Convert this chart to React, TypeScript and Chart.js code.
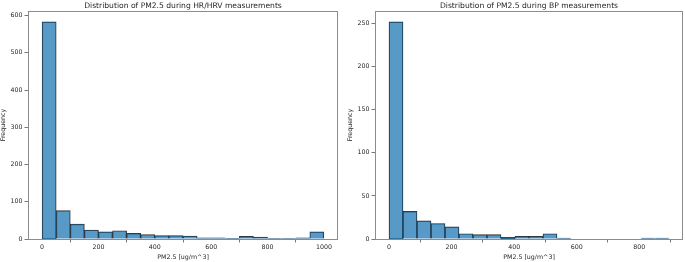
import React, { useEffect, useRef } from "react";
import { Chart, registerables } from "chart.js";

Chart.register(...registerables);

// ---------- Data ----------
const hrvTitle = "Distribution of PM2.5 during HR/HRV measurements";
const hrvBinStarts = [0, 50, 100, 150, 200, 250, 300, 350, 400, 450, 500, 550, 600, 650, 700, 750, 800, 850, 900, 950];
const hrvBinWidth = 50;
const hrvCounts = [583, 76, 40, 24, 19, 22, 15, 12, 9, 9, 8, 3, 3, 2, 7, 5, 1, 1, 3, 19];
const hrvXTicks = [0, 200, 400, 600, 800, 1000];
const hrvYTicks = [0, 100, 200, 300, 400, 500, 600];
const hrvXRange = [-50, 1050];
const hrvYMax = 612.15;

const bpTitle = "Distribution of PM2.5 during BP measurements";
const bpBinStarts = [0, 44.75, 89.5, 134.25, 179, 223.75, 268.5, 313.25, 358, 402.75, 447.5, 492.25, 537, 581.75, 626.5, 671.25, 716, 760.75, 805.5, 850.25];
const bpBinWidth = 44.75;
const bpCounts = [252, 32, 21, 18, 14, 6, 5, 5, 2, 3, 3, 6, 1, 0, 0, 0, 0, 0, 1, 1];
const bpXTicks = [0, 200, 400, 600, 800];
const bpYTicks = [0, 50, 100, 150, 200, 250];
const bpXRange = [-44.75, 939.75];
const bpYMax = 264.6;

const xLabel = "PM2.5 [ug/m^3]";
const yLabel = "Frequency";

// ---------- Styles ----------
const FONT = "DejaVu Sans";
const BAR_FILL = "rgba(31,119,180,0.75)";
const BAR_EDGE = "rgba(25,25,25,0.9)";
const TEXT = "#262626";
const SPINE = "#8c8c8c";
const TICKC = "#555555";

const framePlugin = {
  id: "frameAndTitle",
  afterDatasetsDraw(chart: any) {
    const { ctx, chartArea } = chart;
    ctx.save();
    ctx.strokeStyle = SPINE;
    ctx.lineWidth = 1;
    ctx.strokeRect(
      Math.round(chartArea.left) + 0.5,
      Math.round(chartArea.top) + 0.5,
      Math.round(chartArea.right - chartArea.left) - 1,
      Math.round(chartArea.bottom - chartArea.top)
    );
    ctx.restore();
  },
  afterDraw(chart: any) {
    const { ctx, chartArea } = chart;
    const title = chart.options.plugins.customTitle?.text;
    if (!title) return;
    ctx.save();
    ctx.font = `7.6px "${FONT}"`;
    ctx.fillStyle = TEXT;
    ctx.textAlign = "center";
    ctx.textBaseline = "alphabetic";
    ctx.fillText(title, (chartArea.left + chartArea.right) / 2, 7.5);
    ctx.restore();
  },
};

type HistProps = {
  title: string;
  binStarts: number[];
  binWidth: number;
  counts: number[];
  xTicks: number[];
  yTicks: number[];
  xRange: number[];
  yMax: number;
  width: number;
  left: number;
};

function Hist(p: HistProps) {
  const ref = useRef<HTMLCanvasElement | null>(null);
  useEffect(() => {
    if (!ref.current) return;
    const data = p.binStarts.map((s, i) => ({ x: s + p.binWidth / 2, y: p.counts[i] }));
    const tickFont = { family: FONT, size: 6.3 };
    const chart = new Chart(ref.current, {
      type: "bar",
      data: {
        datasets: [
          {
            data,
            backgroundColor: BAR_FILL,
            borderColor: BAR_EDGE,
            borderWidth: 0.7,
            borderSkipped: "start",
            barPercentage: 1,
            categoryPercentage: 1,
          } as any,
        ],
      },
      options: {
        responsive: false,
        animation: false,
        devicePixelRatio: 1,
        layout: { padding: { top: 11, right: 2, left: 0, bottom: 0 } },
        plugins: {
          legend: { display: false },
          tooltip: { enabled: false },
          customTitle: { text: p.title },
        } as any,
        scales: {
          x: {
            type: "linear",
            min: p.xRange[0],
            max: p.xRange[1],
            offset: false,
            afterBuildTicks: (s: any) => {
              s.ticks = p.xTicks.map((v) => ({ value: v }));
            },
            afterFit: (s: any) => {
              s.height = 23;
            },
            grid: { drawOnChartArea: false, drawTicks: true, tickLength: 3.5, color: TICKC, lineWidth: 0.8 },
            border: { display: false },
            ticks: { font: tickFont, color: TEXT, padding: 1, maxRotation: 0, autoSkip: false, callback: (v: any) => String(v) },
            title: { display: true, text: xLabel, font: tickFont, color: TEXT, padding: { top: 0, bottom: 0.5 } },
          },
          y: {
            type: "linear",
            min: 0,
            max: p.yMax,
            afterBuildTicks: (s: any) => {
              s.ticks = p.yTicks.map((v) => ({ value: v }));
            },
            afterFit: (s: any) => {
              s.width = 28;
            },
            grid: { drawOnChartArea: false, drawTicks: true, tickLength: 3.5, color: TICKC, lineWidth: 0.8 },
            border: { display: false },
            ticks: { font: tickFont, color: TEXT, padding: 2, autoSkip: false, callback: (v: any) => String(v) },
            title: { display: true, text: yLabel, font: tickFont, color: TEXT, padding: { top: 0, bottom: 0 } },
          },
        },
      } as any,
      plugins: [framePlugin],
    });
    return () => chart.destroy();
  }, []);
  return (
    <canvas
      ref={ref}
      width={p.width}
      height={262}
      style={{ position: "absolute", left: p.left, top: 0, width: p.width, height: 262 }}
    />
  );
}

export default function App() {
  return (
    <div style={{ position: "absolute", left: 0, top: 0, width: 685, height: 262, background: "#fff" }}>
      <Hist
        title={hrvTitle}
        binStarts={hrvBinStarts}
        binWidth={hrvBinWidth}
        counts={hrvCounts}
        xTicks={hrvXTicks}
        yTicks={hrvYTicks}
        xRange={hrvXRange}
        yMax={hrvYMax}
        width={340}
        left={0}
      />
      <Hist
        title={bpTitle}
        binStarts={bpBinStarts}
        binWidth={bpBinWidth}
        counts={bpCounts}
        xTicks={bpXTicks}
        yTicks={bpYTicks}
        xRange={bpXRange}
        yMax={bpYMax}
        width={338}
        left={347}
      />
    </div>
  );
}
